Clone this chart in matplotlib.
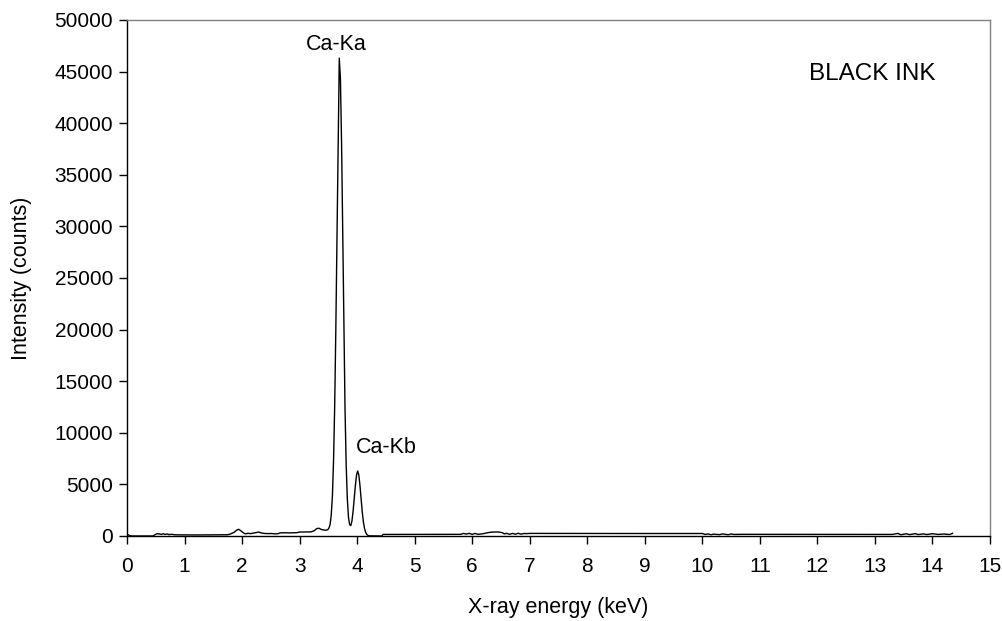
import matplotlib
matplotlib.use("Agg")
import matplotlib.pyplot as plt

plt.rcParams['font.family'] = ['Liberation Sans', 'DejaVu Sans']

# X-ray energy (keV) and intensity (counts)
energy_low = [0.00, 0.02, 0.05, 0.10, 0.45, 0.48, 0.52, 0.56, 0.60, 0.63, 0.66, 0.70,
              0.73, 0.78, 0.82, 0.90, 1.20, 1.50, 1.75, 1.80, 1.86, 1.91, 1.94, 1.98,
              2.02, 2.06, 2.10, 2.15, 2.20, 2.25, 2.29, 2.33, 2.38, 2.45, 2.52, 2.58,
              2.63, 2.66, 2.75, 2.85, 2.95, 3.00, 3.10, 3.20, 3.25, 3.30, 3.34, 3.38,
              3.42]
counts_low = [150, 120, 30, 0, 0, 100, 220, 200, 150, 220, 150, 200,
              130, 170, 120, 110, 100, 110, 120, 200, 350, 580, 650, 500,
              320, 200, 260, 230, 280, 340, 380, 300, 250, 230, 240, 200,
              230, 300, 310, 300, 320, 380, 390, 400, 500, 720, 750, 620,
              580]

energy_peaks = [3.45, 3.47, 3.49, 3.51, 3.53, 3.55, 3.57, 3.59, 3.61, 3.63, 3.65, 3.67,
                3.69, 3.71, 3.73, 3.75, 3.77, 3.79, 3.81, 3.83, 3.85, 3.87, 3.89, 3.91,
                3.93, 3.95, 3.97, 3.99, 4.01, 4.03, 4.05, 4.07, 4.09, 4.11, 4.13, 4.15,
                4.17, 4.19, 4.21, 4.25, 4.35, 4.43]
counts_peaks = [560, 575, 610, 760, 1100, 2000, 3800, 7200, 12500, 20000, 29000, 38000,
                46300, 44300, 38000, 29200, 20000, 12300, 6900, 3600, 1800, 1100, 1000, 1450,
                2380, 3610, 4900, 5900, 6300, 5900, 4880, 3560, 2300, 1330, 700, 330,
                140, 60, 20, 10, 0, 0]

energy_high = [4.45, 4.50, 4.80, 5.20, 5.50, 5.80, 5.85, 5.90, 5.95, 6.00, 6.05, 6.10,
               6.15, 6.20, 6.28, 6.35, 6.45, 6.52, 6.56, 6.60, 6.65, 6.70, 6.75, 6.80,
               6.85, 6.90, 6.95, 7.00, 8.00, 9.00, 10.00, 10.05, 10.10, 10.15, 10.20,
               10.30, 10.35, 10.45, 10.50, 10.55, 10.70, 12.00, 13.30, 13.40, 13.45,
               13.55, 13.60, 13.70, 13.75, 13.85, 13.90, 14.00, 14.10, 14.20, 14.30, 14.35]
counts_high = [150, 150, 140, 140, 150, 160, 250, 180, 260, 150, 250, 160,
               200, 230, 330, 380, 390, 330, 200, 260, 160, 250, 170, 260,
               180, 240, 230, 250, 240, 240, 240, 150, 200, 120, 180,
               130, 200, 120, 200, 150, 160, 150, 150, 250, 120,
               220, 130, 230, 140, 200, 140, 220, 150, 190, 140, 260]

energy = energy_low + energy_peaks + energy_high
counts = counts_low + counts_peaks + counts_high

x_ticks = list(range(0, 16))
y_ticks = list(range(0, 50001, 5000))

peak_labels = ["Ca-Ka", "Ca-Kb"]
peak_label_pos = [(3.645, 47100), (4.50, 8000)]
sample_label = "BLACK INK"

fig = plt.figure(figsize=(10.03, 6.21), dpi=100)
ax = fig.add_axes([0.1266, 0.1369, 0.8604, 0.8309])

ax.plot(energy, counts, color='black', linewidth=1.0)

ax.set_xlim(0, 15)
ax.set_ylim(0, 50000)
ax.set_xticks(x_ticks)
ax.set_yticks(y_ticks)
ax.tick_params(axis='both', direction='out', length=6, width=1, labelsize=15, colors='black')
ax.tick_params(axis='x', pad=9)
ax.tick_params(axis='y', pad=4)

for side in ['top', 'right']:
    ax.spines[side].set_color('#808080')
    ax.spines[side].set_linewidth(1.0)
for side in ['left', 'bottom']:
    ax.spines[side].set_color('black')
    ax.spines[side].set_linewidth(1.0)

ax.set_xlabel("X-ray energy (keV)", fontsize=15.5, labelpad=15)
ax.set_ylabel("Intensity (counts)", fontsize=15.5, labelpad=16)

for lab, (px, py) in zip(peak_labels, peak_label_pos):
    ax.text(px, py, lab, ha='center', va='baseline', fontsize=15.5)
ax.text(12.96, 44200, sample_label, ha='center', va='baseline', fontsize=17.5)

fig.savefig("out.png", dpi=100)
